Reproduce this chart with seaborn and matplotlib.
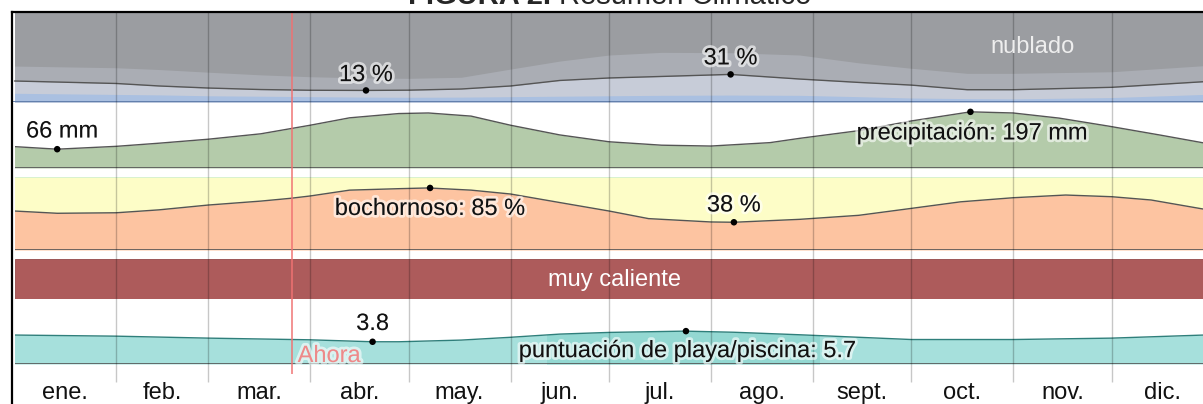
import matplotlib
matplotlib.use("Agg")
import matplotlib.pyplot as plt
import matplotlib.patheffects as pe
import pandas as pd
import seaborn as sns

sns.set_style("white")
plt.rcParams['font.family'] = ['Liberation Sans', 'DejaVu Sans']

# Data (day of year -> value)
months = ['ene.', 'feb.', 'mar.', 'abr.', 'may.', 'jun.',
          'jul.', 'ago.', 'sept.', 'oct.', 'nov.', 'dic.']
month_start = [0, 31, 59, 90, 120, 151, 181, 212, 243, 273, 304, 334]
month_len = [31, 28, 31, 30, 31, 30, 31, 31, 30, 31, 30, 31]
now_day = 84.5

cloud_days = [0, 31, 44, 59, 75, 90, 107, 120, 136, 151, 166, 181, 197, 218,
              239, 257, 273, 290, 304, 334, 362]
clear_pct = [23.6, 20.8, 18.0, 15.7, 14.0, 13.2, 13.0, 13.3, 14.6, 18.0, 24.2,
             27.0, 28.7, 31.0, 25.8, 22.0, 19.0, 13.8, 13.8, 16.5, 22.8]
sunny_pct = [9.8, 8.5, 8.0, 7.0, 6.5, 6.0, 5.5, 5.3, 5.5, 6.0, 6.5,
             7.0, 7.5, 7.8, 7.5, 6.0, 4.5, 3.8, 3.5, 5.0, 8.5]
partly_pct = [40.4, 38.5, 36.5, 33.5, 30.5, 28.4, 27.0, 26.6, 27.8, 37.0, 46.0,
              52.8, 55.8, 55.4, 52.8, 44.0, 37.9, 32.2, 32.2, 34.0, 40.8]
cloud_min = (107, 13, '13 %')
cloud_max = (218, 31, '31 %')

precip_days = [0, 13, 31, 44, 59, 75, 90, 102, 117, 126, 139, 151, 166, 181,
               197, 212, 230, 239, 257, 273, 291, 304, 318, 333, 349, 362]
precip_mm = [75, 66, 76, 87, 101, 120, 150, 176, 191, 193, 182, 150, 116, 92,
             80, 77, 89, 104, 131, 165, 197, 193, 175, 147, 115, 88]
precip_min = (13, 66, '66 mm')
precip_max = (291, 197, 'precipitación: 197 mm')

humid_days = [0, 13, 31, 44, 59, 75, 84, 90, 102, 117, 126, 139, 151, 166, 181,
              193, 212, 219, 239, 257, 273, 288, 304, 320, 334, 346, 362]
muggy_pct = [53.4, 50.3, 51, 55, 61.6, 67, 70.8, 74, 82, 84, 85, 82, 76.7, 65,
             53.4, 43, 38.4, 38, 42, 47.5, 57, 66, 71.6, 75.3, 73, 68.5, 56]
humid_max = (126.5, 85, 'bochornoso: 85 %')
humid_min = (219, 38, '38 %')

temp_label = 'muy caliente'

beach_days = [0, 31, 59, 90, 109, 117, 136, 151, 166, 181, 204, 219, 239, 257,
              273, 304, 334, 362]
beach_score = [5.0, 4.8, 4.45, 4.15, 3.8, 3.8, 4.1, 4.6, 5.17, 5.47, 5.7, 5.5,
               5.05, 4.6, 4.2, 4.2, 4.45, 5.0]
beach_best = (162, 245)
beach_min = (109, 3.8, '3.8')
beach_max = (204.4, 5.7, 'puntuación de playa/piscina: 5.7')

# Layout (pixels)
W, H = 1203, 404
PX0, PXDAY = 14.5, 3.285
FS = 17

fig = plt.figure(figsize=(W / 100, H / 100), dpi=100)


def add_panel(y_top, y_bot, x_left=PX0):
    ax = fig.add_axes([x_left / W, 1 - y_bot / H, (W - x_left) / W, (y_bot - y_top) / H])
    ax.set_xlim((x_left - PX0) / PXDAY, (W - PX0) / PXDAY)
    ax.set_axis_off()
    return ax


halo = [pe.withStroke(linewidth=4, foreground=(1, 1, 1, 0.6))]
dark = '#555555'

# Clouds
ax_c = add_panel(13, 102, 13)
ax_c.set_ylim(0, 100)
ax_c.fill_between(cloud_days, 0, 100, color='#9b9da1', lw=0)
ax_c.fill_between(cloud_days, 0, partly_pct, color='#aaadb4', lw=0)
ax_c.fill_between(cloud_days, 0, clear_pct, color='#c7ccd8', lw=0)
ax_c.fill_between(cloud_days, 0, sunny_pct, color='#aac0e1', lw=0)
sns.lineplot(x=cloud_days, y=clear_pct, ax=ax_c, color=dark, lw=1.0)
ax_c.axhline(0.5, color='#5c7aa8', lw=1.3)

# Precipitation
ax_p = add_panel(103, 168)
ax_p.set_ylim(0, 228)
ax_p.fill_between(precip_days, 0, precip_mm, color='#b4cbaa', lw=0)
sns.lineplot(x=precip_days, y=precip_mm, ax=ax_p, color=dark, lw=1.0)
ax_p.axhline(0, color=dark, lw=1.2)

# Humidity
ax_h = add_panel(177, 250)
ax_h.set_ylim(0, 100)
ax_h.fill_between(humid_days, 0, 100, color='#d9f1cf', lw=0)
ax_h.fill_between(humid_days, 0, 98, color='#fdfdc7', lw=0)
ax_h.fill_between(humid_days, 0, muggy_pct, color='#fdc4a1', lw=0)
sns.lineplot(x=humid_days, y=muggy_pct, ax=ax_h, color=dark, lw=1.0)
ax_h.axhline(0, color=dark, lw=1.2)

# Temperature
ax_t = add_panel(259, 299)
ax_t.set_ylim(-0.5, 0.5)
ax_t.barh(0, 365, left=0, height=1, color='#ad5b5b', edgecolor='#94494a', lw=0.6)

# Beach / pool score
ax_b = add_panel(308, 364)
ax_b.set_ylim(-0.17, 9.83)
lo = ax_b.get_ylim()[0]
ax_b.fill_between(beach_days, lo, beach_score, color='#a6e0dc', lw=0)
best = ax_b.fill_between(beach_days, lo, beach_score, color='#93d8d2', lw=0)
span = ax_b.axvspan(*beach_best, alpha=0)
best.set_clip_path(span)
sns.lineplot(x=beach_days, y=beach_score, ax=ax_b, color='#2f7f7b', lw=1.0)
ax_b.axhline(lo, color=dark, lw=1.2)

# Extreme dots
for ax, pts in [(ax_c, [cloud_min, cloud_max]), (ax_p, [precip_min, precip_max]),
                (ax_h, [humid_max, humid_min]), (ax_b, [beach_min, beach_max])]:
    sns.scatterplot(x=[p[0] for p in pts], y=[p[1] for p in pts], ax=ax,
                    color='black', s=22, edgecolor='none', zorder=5)

# Overlay: frame, month grid, now line, labels
ov = fig.add_axes([12 / W, 0, (W - 12) / W, (H - 12) / H], facecolor='none')
ov.set_xlim((12 - PX0) / PXDAY, (W - PX0) / PXDAY)
ov.set_ylim(0, 1)
ov.set_xticks([])
ov.set_yticks([])
for side in ['right', 'bottom']:
    ov.spines[side].set_visible(False)
for side in ['left', 'top']:
    ov.spines[side].set_color('black')
    ov.spines[side].set_linewidth(1.6)
tr = ov.get_xaxis_transform()
ov.vlines(month_start[1:], 22 / 392, 1, transform=tr, colors='black', alpha=0.22, lw=1.0)
ov.vlines([now_day], 30 / 392, 1, transform=tr, colors='#f07272', alpha=0.9, lw=1.2)
ov.annotate('Ahora', xy=(now_day, 42 / 392), xycoords=tr, xytext=(4, 0),
            textcoords='offset points', ha='left', va='baseline', fontsize=FS,
            color='#ec8a8a', path_effects=halo)

mids = [s + n / 2 for s, n in zip(month_start, month_len)]
for m, lab in zip(mids, months):
    ov.text(m, 5 / 392, lab, transform=tr, ha='center', va='baseline', fontsize=FS, color='#111111')

labels = [
    (ax_c, cloud_min, 0, 9.3), (ax_c, cloud_max, 0, 10),
    (ax_p, precip_min, 5, 11.7), (ax_p, precip_max, 2, -27.6),
    (ax_h, humid_max, 0, -27), (ax_h, humid_min, 0, 10.8),
    (ax_b, beach_min, 0, 11.8), (ax_b, beach_max, 2, -26),
]
for ax, (d, v, txt), dx, dy in labels:
    ov.annotate(txt, xy=(d, v), xycoords=ax.transData, xytext=(dx * 0.72, dy * 0.72),
                textcoords='offset points', ha='center', va='baseline', fontsize=FS,
                color='#111111', path_effects=halo, zorder=6)

ov.annotate('nublado', xy=(310, 54.7), xycoords=ax_c.transData, ha='center',
            va='baseline', fontsize=FS, color='#eeeeee')
ov.annotate(temp_label, xy=(182.5, 0), xycoords=ax_t.transData, xytext=(0, -7 * 0.72),
            textcoords='offset points', ha='center', va='baseline', fontsize=FS, color='white')

# Title (cut off at the top edge, as in the reference)
t1 = fig.text(408 / W, 1 - 4 / H, 'FIGURA 2.', fontsize=21, fontweight='bold',
              ha='left', va='baseline')
r = fig.canvas.get_renderer()
bb = t1.get_window_extent(r)
fig.text(bb.x1 / W + 8 / W, 1 - 4 / H, 'Resumen Climático', fontsize=21,
         ha='left', va='baseline')

fig.savefig('out.png', dpi=100)
